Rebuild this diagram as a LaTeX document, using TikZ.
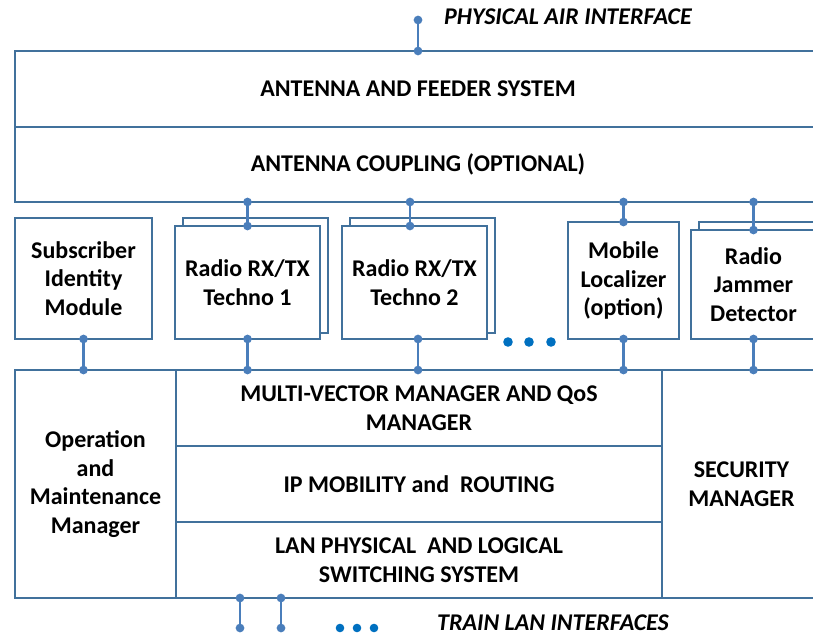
\documentclass[tikz,border=0pt]{standalone}
\usepackage{fontspec}
\setmainfont{Carlito}
\usetikzlibrary{arrows.meta, positioning}
\definecolor{boxblue}{RGB}{65,113,156}
\definecolor{linkblue}{RGB}{74,126,187}
\definecolor{dotblue}{RGB}{0,112,192}
\tikzstyle{layer} = [rectangle, draw=boxblue, line width=2.4pt, fill=white, align=center, inner sep=0pt, outer sep=0pt, font=\fontsize{24}{28.5}\selectfont\bfseries]
\tikzstyle{shadow} = [rectangle, draw=boxblue, line width=2.4pt, fill=white, inner sep=0pt, outer sep=0pt]
\tikzstyle{link} = [draw=linkblue, line width=2.8pt, {Circle[length=8.5pt]}-{Circle[length=8.5pt]}, shorten <=-4.25pt, shorten >=-4.25pt]
\tikzstyle{iface} = [anchor=west, inner sep=0pt, font=\fontsize{24}{28}\selectfont\bfseries\itshape]

\begin{document}
\begin{tikzpicture}[x=1pt, y=-1pt]
\useasboundingbox (0,0) rectangle (813,636);
\clip (0,0) rectangle (813,636);

% antenna side
\node (feeder) [layer, minimum width=806pt, minimum height=76pt] at (418,89) {ANTENNA AND FEEDER SYSTEM};
\node (coupling) [layer, minimum width=806pt, minimum height=75pt, below=0pt of feeder] {ANTENNA COUPLING (OPTIONAL)};

% radio modules
\node (sim) [layer, minimum width=137pt, minimum height=121pt] at (83.5,278.5) {Subscriber\\Identity\\Module};
\node (radioAback) [shadow, minimum width=145pt, minimum height=115pt] at (255.5,275.5) {};
\node (radioA) [layer, minimum width=145pt, minimum height=113pt] at (247.5,282.5) {Radio RX/TX\\Techno 1};
\node (radioBback) [shadow, minimum width=145pt, minimum height=115pt] at (422.5,275.5) {};
\node (radioB) [layer, minimum width=145pt, minimum height=113pt] at (414.5,282.5) {Radio RX/TX\\Techno 2};
\node (mobile) [layer, minimum width=111pt, minimum height=117pt] at (623.5,280.5) {Mobile\\Localizer\\(option)};
\node (jammerback) [shadow, minimum width=125pt, minimum height=111pt] at (761.5,277.5) {};
\node (jammer) [layer, minimum width=125pt, minimum height=109pt] at (753.5,284.5) {Radio\\Jammer\\Detector};

% train side
\node (oam) [layer, minimum width=161pt, minimum height=228pt] at (95.5,484) {Operation\\and\\Maintenance\\Manager};
\node (mvm) [layer, minimum width=486pt, minimum height=76pt] at (419,408) {MULTI-VECTOR MANAGER AND QoS\\MANAGER};
\node (ipm) [layer, minimum width=486pt, minimum height=76pt, below=0pt of mvm] {IP MOBILITY and~~ROUTING};
\node (lan) [layer, minimum width=486pt, minimum height=76pt, below=0pt of ipm] {LAN PHYSICAL~~AND LOGICAL\\SWITCHING SYSTEM};
\node (security) [layer, minimum width=159pt, minimum height=228pt] at (741.5,484) {SECURITY\\MANAGER};

% interfaces
\coordinate (air) at (418,20);
\coordinate (lanA) at (240,628);
\coordinate (lanB) at (281,628);
\path ([xshift=-4.5pt]radioB.north) coordinate (tapB);
\path ([xshift=3.5pt]radioB.south) coordinate (dropB);
\node (airlabel) [iface] at (444,17) {PHYSICAL AIR INTERFACE};
\node (lanlabel) [iface] at (437,623) {TRAIN LAN INTERFACES};

\draw [link] (air) -- (air |- feeder.north);
\draw [link] (coupling.south -| radioA.north) -- (radioA.north);
\draw [link] (tapB |- coupling.south) -- (tapB);
\draw [link] (coupling.south -| mobile.north) -- (mobile.north);
\draw [link] (coupling.south -| jammer.north) -- (jammer.north);

\draw [link] (sim.south) -- (sim.south |- oam.north);
\draw [link] (radioA.south) -- (radioA.south |- mvm.north);
\draw [link] (dropB) -- (dropB |- mvm.north);
\draw [link] (mobile.south) -- (mobile.south |- mvm.north);
\draw [link] (jammer.south) -- (jammer.south |- security.north);

\draw [link] (lanA |- lan.south) -- (lanA);
\draw [link] (lanB |- lan.south) -- (lanB);

% more of the same
\foreach \x in {508,529,551} \fill[dotblue] (\x,342) circle (4.8pt);
\foreach \x in {340,357,374} \fill[dotblue] (\x,628) circle (4.3pt);
\end{tikzpicture}
\end{document}
